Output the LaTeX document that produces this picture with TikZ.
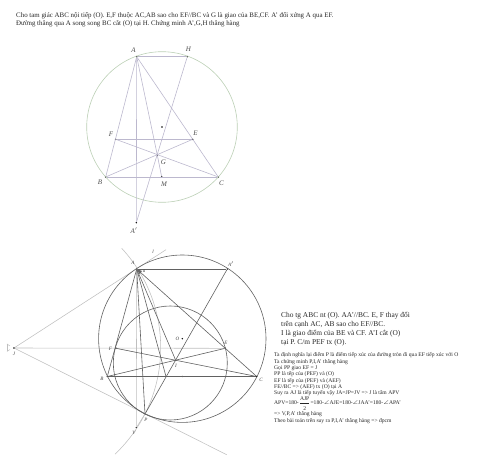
\documentclass[tikz,border=0pt]{standalone}
\usepackage{amsmath}
\usepackage{amssymb}
\usepackage{fontspec}
\setmainfont{Liberation Serif}
\definecolor{linepurple}{RGB}{188,184,206}
\definecolor{circlegreen}{RGB}{188,208,182}
\tikzset{
    dot/.style={circle, fill=black, inner sep=0pt, minimum size=1.6pt},
    lab/.style={font=\itshape\fontsize{7}{8}\selectfont, text=black!70, inner sep=0pt},
    labsm/.style={font=\itshape\fontsize{5}{6}\selectfont, text=black!75, inner sep=0pt},
    thinline/.style={draw=linepurple, line width=0.6pt},
    darkline/.style={draw=black!62, line width=0.6pt},
    paleline/.style={draw=black!25, line width=0.55pt},
    note/.style={font=\fontsize{#1}{#1}\selectfont, anchor=base west, inner sep=0pt, text=black!85},
}
\begin{document}
\begin{tikzpicture}[x=1pt, y=-1pt]
    \useasboundingbox (0,0) rectangle (480,462);

    % heading
    \node[note=6.9] (t1) at (16,17.5) {Cho tam giác ABC nội tiếp (O). E,F thuộc AC,AB sao cho EF//BC và G là giao của BE,CF. A' đối xứng A qua EF.};
    \node[note=6.9] (t2) at (16,26) {Đường thẳng qua A song song BC cắt (O) tại H. Chứng minh A',G,H thẳng hàng};

    % first figure
    \node[dot] (A) at (136.7,56.7) {};
    \node[dot] (H) at (187.3,56.7) {};
    \node[dot] (F) at (115.7,139.3) {};
    \node[dot] (E) at (192.7,139.3) {};
    \node[dot] (G) at (157.3,155) {};
    \node[dot] (B) at (105.7,177) {};
    \node[dot] (C) at (218.3,177) {};
    \node[dot] (M) at (161.7,177) {};
    \node[dot] (O) at (162,127) {};
    \node[dot] (Aa) at (136.3,222.7) {};

    \draw[draw=circlegreen, line width=0.6pt] (O) circle (75.3);
    \draw[thinline] (A) -- (H);
    \draw[thinline] (A) -- (B);
    \draw[thinline] (A) -- (C);
    \draw[thinline] (B) -- (C);
    \draw[thinline] (F) -- (E);
    \draw[thinline] (B) -- (E);
    \draw[thinline] (C) -- (F);
    \draw[thinline] (A) -- (Aa);
    \draw[thinline] (Aa) -- (H);
    \draw[thinline] (A) -- (G);
    \draw[thinline] (G) -- (M);

    \node[lab] (lA) at (133.5,50) {A};
    \node[lab] (lH) at (188.5,49.5) {H};
    \node[lab] (lF) at (111,134) {F};
    \node[lab] (lE) at (195.5,133.5) {E};
    \node[lab] (lG) at (163.5,162) {G};
    \node[lab] (lB) at (100,182) {B};
    \node[lab] (lC) at (221.5,183) {C};
    \node[lab] (lM) at (164,184) {M};
    \node[lab] (lAa) at (134,230.5) {A$'$};

    % second figure
    \node[dot] (A2) at (136.7,269) {};
    \node[dot] (Aa2) at (227.3,269) {};
    \node[dot] (B2) at (107.3,376.5) {};
    \node[dot] (C2) at (256.7,376.5) {};
    \node[dot] (E2) at (225.3,348.3) {};
    \node[dot] (F2) at (116,348.3) {};
    \node[dot] (I2) at (175.7,360.3) {};
    \node[dot] (P2) at (145,414) {};
    \node[dot] (O2) at (182.3,338.7) {};
    \node[dot] (J2) at (14,348) {};
    \node[dot] (V2) at (136.3,427.7) {};
    \node[dot, black!50] (M2) at (182.3,376.5) {};
    \coordinate (D2) at (166,376.5);
    \coordinate (T1) at (166,249.7);
    \coordinate (T2) at (226.7,454.7);

    \draw[paleline] (J2) -- (T1);
    \draw[paleline] (J2) -- (T2);
    \draw[paleline] (J2) -- (E2);
    \draw[paleline] (A2) -- (V2);
    \draw[paleline] (P2) -- (V2);
    \draw[paleline] (121.7,248.3) arc[start angle=-42.8, end angle=46.5, radius=146.5];
    \draw[paleline] (7,344) -- (10,346) (7,351.5) -- (10,349.5) (7.5,344) -- (7.5,351.5);

    \draw[darkline] (O2) circle (83.7);
    \draw[darkline] (170.3,363) circle (57);
    \draw[darkline] (A2) -- (B2);
    \draw[darkline] (A2) -- (C2);
    \draw[darkline] (A2) -- (P2);
    \draw[darkline] (A2) -- (I2);
    \draw[darkline] (A2) -- (D2);
    \draw[darkline] (B2) -- (E2);
    \draw[darkline] (C2) -- (F2);
    \draw[darkline] (Aa2) -- (P2);
    \draw[darkline, line width=0.9pt] (A2) -- (Aa2);
    \draw[darkline, line width=0.9pt] (B2) -- (C2);
    \fill[black!60] (A2.center) -- (142,271) -- (139.5,274) -- cycle;

    \node[labsm] (la2) at (144,271) {a};
    \node[labsm] (ll2) at (153,252) {l};
    \node[labsm] (lA2) at (133,263) {A};
    \node[labsm] (lAa2) at (231,264) {A$'$};
    \node[labsm] (lO2) at (177.5,339) {O};
    \node[labsm] (lE2) at (226,342.5) {E};
    \node[labsm] (lF2) at (110.5,348.5) {F};
    \node[labsm] (lB2) at (102,379) {B};
    \node[labsm] (lC2) at (261,380) {C};
    \node[labsm] (lI2) at (176,366) {I};
    \node[labsm] (lP2) at (146,420) {P};
    \node[labsm] (lV2) at (134,433) {V};
    \node[labsm] (lJ2) at (14,354) {J};

    % right column
    \node[note=7.4] (p1) at (281,317.5) {Cho tg ABC nt (O). AA'//BC. E, F thay đổi};
    \node[note=7.4] (p2) at (281,327) {trên cạnh AC, AB sao cho EF//BC.};
    \node[note=7.4] (p3) at (281,336) {I là giao điểm của BE và CF. A'I cắt (O)};
    \node[note=7.4] (p4) at (281,345) {tại P. C/m PEF tx (O).};

    \node[note=5.6] (n1) at (274,357) {Ta định nghĩa lại điểm P là điểm tiếp xúc của đường tròn đi qua EF tiếp xúc với O};
    \node[note=5.6] (n2) at (274,363.3) {Ta chứng minh P,I,A' thẳng hàng};
    \node[note=5.6] (n3) at (274,369.6) {Gọi PP giao EF = J};
    \node[note=5.6] (n4) at (274,375.9) {PP là tếp của (PEF) và (O)};
    \node[note=5.6] (n5) at (274,382.2) {EF là tếp của (PEF) và (AEF)};
    \node[note=5.6] (n6) at (274,388.5) {FE//BC => (AEF) tx (O) tại A};
    \node[note=5.6] (n7) at (274,394.8) {Suy ra AJ là tiếp tuyến vậy JA=JP=JV => J là tâm APV};
    \node[note=5.6] (n8) at (274,405) {APV=180-$\dfrac{\text{\fontsize{5.6}{6}\selectfont AJP}}{\text{\fontsize{5.6}{6}\selectfont 2}}$=180-$\angle$AJE=180-$\angle$JAA'=180-$\angle$APA'};
    \node[note=5.6] (n9) at (274,416) {=> V,P,A' thẳng hàng};
    \node[note=5.6] (n10) at (274,422.5) {Theo bài toán trên suy ra P,I,A' thẳng hàng => đpcm};
\end{tikzpicture}
\end{document}
